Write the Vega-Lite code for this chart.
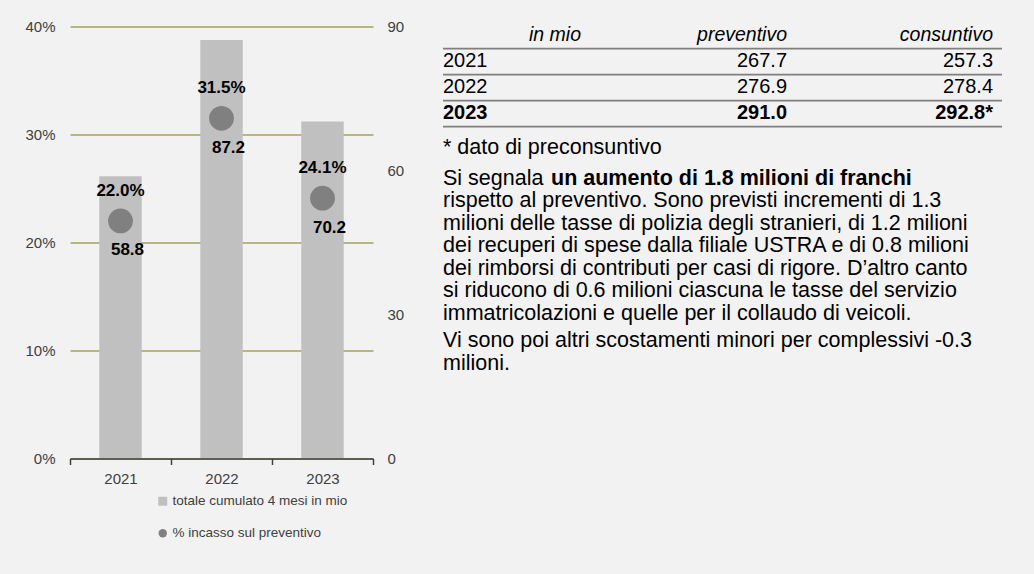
{
  "$schema": "https://vega.github.io/schema/vega-lite/v6.json",
  "background": "#f2f2f2",
  "padding": {"left": 24, "top": 19.5, "right": 32, "bottom": 34},
  "autosize": {"type": "pad"},
  "spacing": 38,
  "config": {
    "view": {"stroke": null},
    "font": "Liberation Sans"
  },
  "datasets": {
    "grafico": [
      {"anno": "2021", "totale": 58.8, "quota": 0.220},
      {"anno": "2022", "totale": 87.2, "quota": 0.315},
      {"anno": "2023", "totale": 70.2, "quota": 0.241}
    ],
    "tabella": [
      {"ordine": 0, "riga": "intestazione", "colonna": "anno", "testo": "in mio"},
      {"ordine": 0, "riga": "intestazione", "colonna": "preventivo", "testo": "preventivo"},
      {"ordine": 0, "riga": "intestazione", "colonna": "consuntivo", "testo": "consuntivo"},
      {"ordine": 1, "riga": "2021", "colonna": "anno", "testo": "2021"},
      {"ordine": 1, "riga": "2021", "colonna": "preventivo", "testo": "267.7"},
      {"ordine": 1, "riga": "2021", "colonna": "consuntivo", "testo": "257.3"},
      {"ordine": 2, "riga": "2022", "colonna": "anno", "testo": "2022"},
      {"ordine": 2, "riga": "2022", "colonna": "preventivo", "testo": "276.9"},
      {"ordine": 2, "riga": "2022", "colonna": "consuntivo", "testo": "278.4"},
      {"ordine": 3, "riga": "2023", "colonna": "anno", "testo": "2023"},
      {"ordine": 3, "riga": "2023", "colonna": "preventivo", "testo": "291.0"},
      {"ordine": 3, "riga": "2023", "colonna": "consuntivo", "testo": "292.8*"}
    ],
    "nota": [
      {"ordine": 4, "testo": "* dato di preconsuntivo"}
    ],
    "paragrafo": [
      {"linea": 1, "testo": "Si segnala"},
      {"linea": 2, "testo": "rispetto al preventivo. Sono previsti incrementi di 1.3"},
      {"linea": 3, "testo": "milioni delle tasse di polizia degli stranieri, di 1.2 milioni"},
      {"linea": 4, "testo": "dei recuperi di spese dalla filiale USTRA e di 0.8 milioni"},
      {"linea": 5, "testo": "dei rimborsi di contributi per casi di rigore. D’altro canto"},
      {"linea": 6, "testo": "si riducono di 0.6 milioni ciascuna le tasse del servizio"},
      {"linea": 7, "testo": "immatricolazioni e quelle per il collaudo di veicoli."}
    ],
    "paragrafo2": [
      {"linea": 8, "testo": "Vi sono poi altri scostamenti minori per complessivi -0.3"},
      {"linea": 9, "testo": "milioni."}
    ],
    "evidenza": [
      {"linea": 1, "testo": "un aumento di 1.8 milioni di franchi"}
    ]
  },
  "hconcat": [
    {
      "width": 303,
      "height": 432,
      "data": {"name": "grafico"},
      "encoding": {
        "x": {
          "field": "anno",
          "type": "nominal",
          "scale": {"paddingInner": 0, "paddingOuter": 0},
          "axis": {
            "title": null,
            "labelAngle": 0,
            "labelFontSize": 15,
            "labelColor": "#404040",
            "labelPadding": 7,
            "domainColor": "#404040",
            "domainWidth": 1.5,
            "tickColor": "#404040",
            "tickWidth": 1.5,
            "tickSize": 6,
            "tickBand": "extent",
            "zindex": 1
          }
        }
      },
      "layer": [
        {
          "mark": {"type": "bar", "width": {"band": 0.42}},
          "encoding": {
            "y": {
              "field": "totale",
              "type": "quantitative",
              "scale": {"domain": [0, 90], "nice": false},
              "axis": {
                "orient": "right",
                "values": [0, 30, 60, 90],
                "title": null,
                "ticks": false,
                "domain": false,
                "grid": false,
                "labelFontSize": 15,
                "labelColor": "#404040",
                "labelPadding": 14
              }
            },
            "color": {
              "datum": "totale cumulato 4 mesi in mio",
              "type": "nominal",
              "scale": {"range": ["#c0c0c0"]},
              "legend": {
                "orient": "none",
                "legendX": 86,
                "legendY": 468,
                "title": null,
                "symbolType": "square",
                "symbolSize": 81,
                "symbolStrokeWidth": 0,
                "labelFontSize": 13.5,
                "labelLimit": 400,
                "labelColor": "#404040",
                "labelOffset": 3,
                "padding": 0
              }
            }
          }
        },
        {
          "encoding": {
            "y": {
              "field": "quota",
              "type": "quantitative",
              "scale": {"domain": [0, 0.4], "nice": false},
              "axis": {
                "orient": "left",
                "values": [0, 0.1, 0.2, 0.3, 0.4],
                "format": ".0%",
                "title": null,
                "ticks": false,
                "domain": false,
                "grid": true,
                "gridColor": "#a4a25a",
                "gridWidth": 1.3,
                "labelFontSize": 15,
                "labelColor": "#404040",
                "labelPadding": 15
              }
            }
          },
          "layer": [
            {
              "mark": {"type": "point", "shape": "circle", "filled": true, "size": 615, "opacity": 1},
              "encoding": {
                "color": {
                  "datum": "% incasso sul preventivo",
                  "type": "nominal",
                  "scale": {"range": ["#808080"]},
                  "legend": {
                    "orient": "none",
                    "legendX": 86,
                    "legendY": 500,
                    "title": null,
                    "symbolType": "circle",
                    "symbolSize": 70,
                    "labelFontSize": 13.5,
                    "labelLimit": 400,
                    "labelColor": "#404040",
                    "labelOffset": 3,
                    "padding": 0
                  }
                }
              }
            },
            {
              "mark": {"type": "text", "dy": -30, "fontSize": 17, "fontWeight": "bold", "color": "#000000"},
              "encoding": {"text": {"field": "quota", "type": "quantitative", "format": ".1%"}}
            },
            {
              "mark": {"type": "text", "dy": 29.5, "dx": 7, "fontSize": 17, "fontWeight": "bold", "color": "#000000"},
              "encoding": {"text": {"field": "totale", "type": "quantitative", "format": ".1f"}}
            }
          ]
        }
      ],
      "resolve": {"scale": {"y": "independent", "color": "independent"}}
    },
    {
      "width": 559,
      "height": 432,
      "layer": [
        {
          "layer": [
            {
              "data": {"name": "tabella"},
              "transform": [{"filter": "datum.colonna === 'anno'"}],
              "mark": {"type": "rule", "color": "#7f7f7f", "strokeWidth": 1.6, "yOffset": 13.5},
              "encoding": {
                "y": {
                  "field": "ordine",
                  "type": "quantitative",
                  "scale": {"domain": [-0.33, 16.285], "reverse": true, "nice": false, "zero": false},
                  "axis": null
                }
              }
            },
            {
              "data": {"name": "tabella"},
              "transform": [{"filter": "datum.riga === 'intestazione'"}],
              "mark": {"type": "text", "align": "right", "baseline": "middle", "fontSize": 19.5, "fontStyle": "italic", "color": "#000000"},
              "encoding": {
                "x": {
                  "field": "colonna",
                  "type": "nominal",
                  "bandPosition": 1,
                  "scale": {"type": "band", "domain": ["anno", "preventivo", "consuntivo"], "paddingInner": 0.33, "paddingOuter": 0.0218, "align": 0},
                  "axis": null
                },
                "y": {"field": "ordine", "type": "quantitative", "axis": null},
                "text": {"field": "testo"}
              }
            },
            {
              "data": {"name": "tabella"},
              "transform": [{"filter": "(datum.riga === '2021' || datum.riga === '2022') && datum.colonna === 'anno'"}],
              "mark": {"type": "text", "align": "left", "baseline": "middle", "fontSize": 20, "color": "#000000"},
              "encoding": {
                "x": {"field": "colonna", "type": "nominal", "bandPosition": 0, "axis": null},
                "y": {"field": "ordine", "type": "quantitative", "axis": null},
                "text": {"field": "testo"}
              }
            },
            {
              "data": {"name": "tabella"},
              "transform": [{"filter": "(datum.riga === '2021' || datum.riga === '2022') && datum.colonna !== 'anno'"}],
              "mark": {"type": "text", "align": "right", "baseline": "middle", "fontSize": 20, "color": "#000000"},
              "encoding": {
                "x": {"field": "colonna", "type": "nominal", "bandPosition": 1, "axis": null},
                "y": {"field": "ordine", "type": "quantitative", "axis": null},
                "text": {"field": "testo"}
              }
            },
            {
              "data": {"name": "tabella"},
              "transform": [{"filter": "datum.riga === '2023' && datum.colonna === 'anno'"}],
              "mark": {"type": "text", "align": "left", "baseline": "middle", "fontSize": 20, "fontWeight": "bold", "color": "#000000"},
              "encoding": {
                "x": {"field": "colonna", "type": "nominal", "bandPosition": 0, "axis": null},
                "y": {"field": "ordine", "type": "quantitative", "axis": null},
                "text": {"field": "testo"}
              }
            },
            {
              "data": {"name": "tabella"},
              "transform": [{"filter": "datum.riga === '2023' && datum.colonna !== 'anno'"}],
              "mark": {"type": "text", "align": "right", "baseline": "middle", "fontSize": 20, "fontWeight": "bold", "color": "#000000"},
              "encoding": {
                "x": {"field": "colonna", "type": "nominal", "bandPosition": 1, "axis": null},
                "y": {"field": "ordine", "type": "quantitative", "axis": null},
                "text": {"field": "testo"}
              }
            },
            {
              "data": {"name": "nota"},
              "mark": {"type": "text", "align": "left", "baseline": "middle", "fontSize": 21.5, "dy": 8.5, "color": "#000000"},
              "encoding": {
                "x": {"datum": "anno", "type": "nominal", "bandPosition": 0, "axis": null},
                "y": {"field": "ordine", "type": "quantitative", "axis": null},
                "text": {"field": "testo"}
              }
            }
          ]
        },
        {
          "layer": [
            {
              "data": {"name": "paragrafo"},
              "mark": {"type": "text", "align": "left", "baseline": "middle", "fontSize": 21.5, "color": "#000000"},
              "encoding": {
                "x": {"datum": "anno", "type": "nominal", "bandPosition": 0, "axis": null},
                "y": {
                  "field": "linea",
                  "type": "quantitative",
                  "scale": {"domain": [-5.756, 13.444], "reverse": true, "nice": false, "zero": false},
                  "axis": null
                },
                "text": {"field": "testo"}
              }
            },
            {
              "data": {"name": "paragrafo2"},
              "mark": {"type": "text", "align": "left", "baseline": "middle", "fontSize": 21.5, "dy": 5, "color": "#000000"},
              "encoding": {
                "x": {"datum": "anno", "type": "nominal", "bandPosition": 0, "axis": null},
                "y": {"field": "linea", "type": "quantitative", "axis": null},
                "text": {"field": "testo"}
              }
            },
            {
              "data": {"name": "evidenza"},
              "mark": {"type": "text", "align": "left", "baseline": "middle", "fontSize": 21.5, "fontWeight": "bold", "dx": 108, "color": "#000000"},
              "encoding": {
                "x": {"datum": "anno", "type": "nominal", "bandPosition": 0, "axis": null},
                "y": {"field": "linea", "type": "quantitative", "axis": null},
                "text": {"field": "testo"}
              }
            }
          ]
        }
      ],
      "resolve": {"scale": {"y": "independent"}}
    }
  ]
}
